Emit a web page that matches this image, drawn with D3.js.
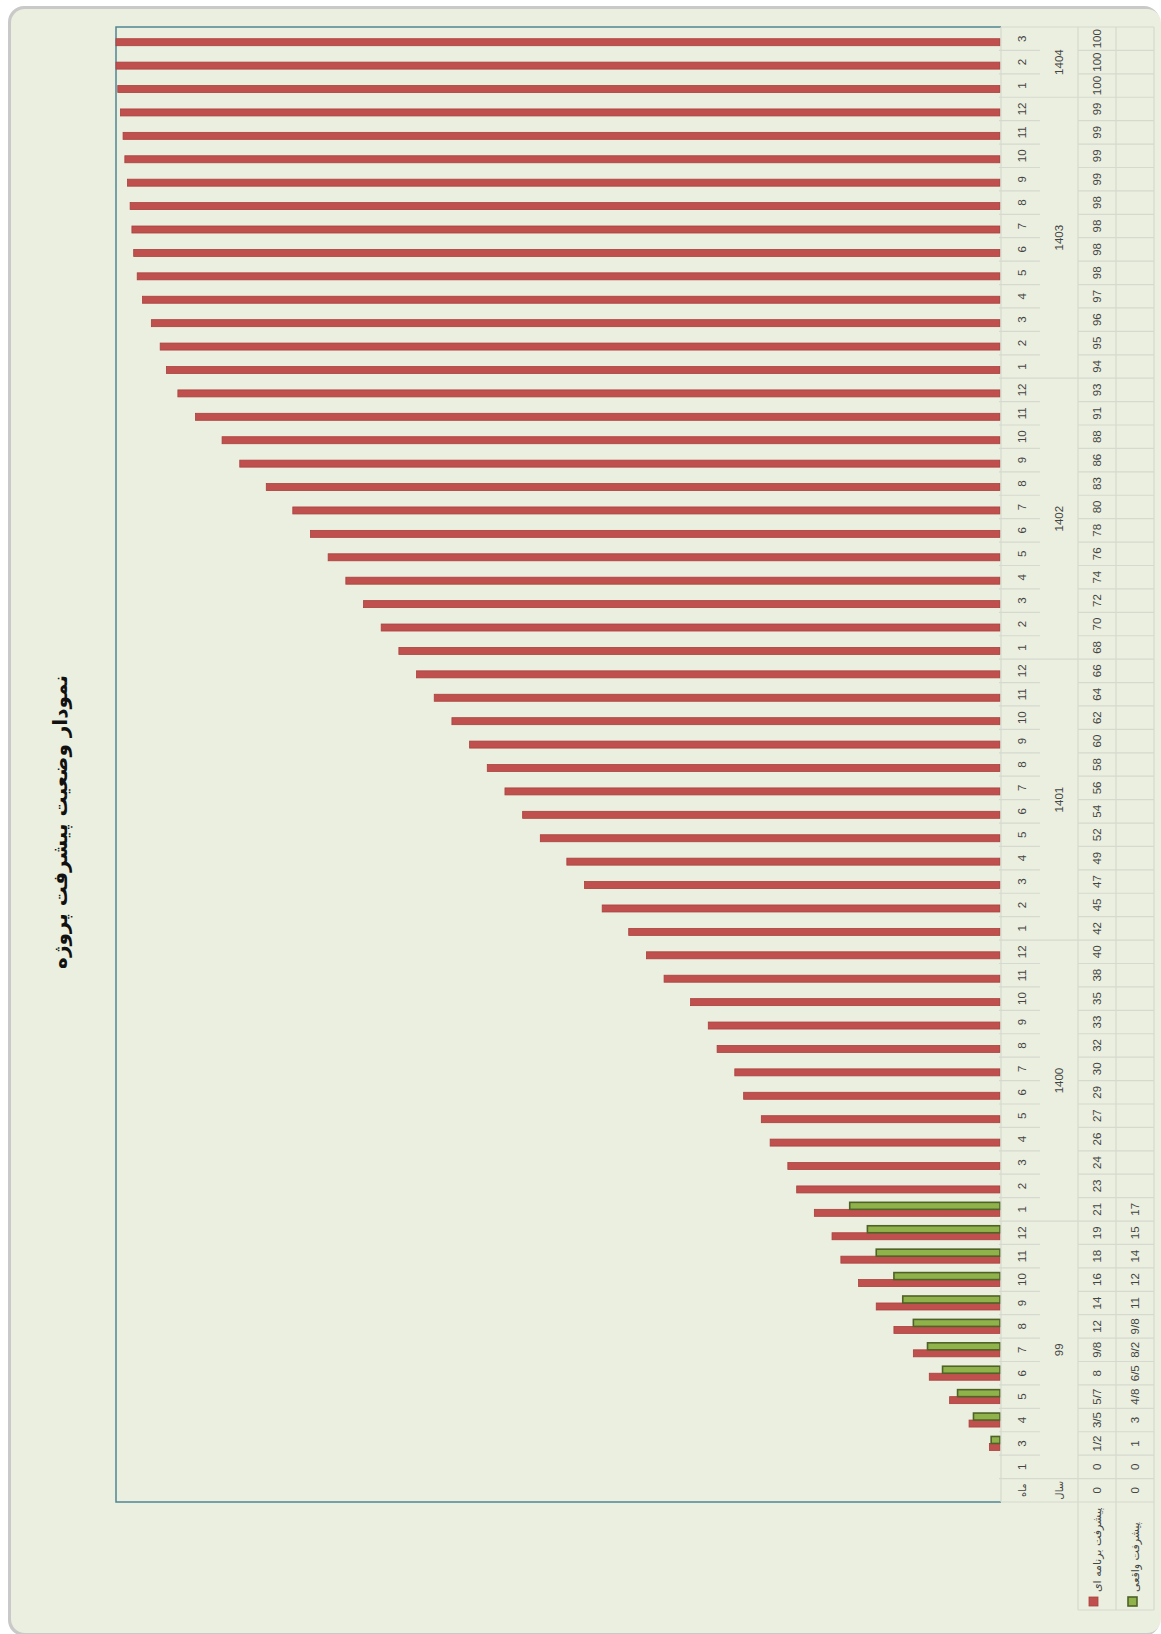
<!DOCTYPE html>
<html>
<head>
<meta charset="utf-8">
<script src="https://cdn.jsdelivr.net/npm/d3@7"></script>
<style>
  html, body { margin: 0; padding: 0; background: #ffffff; }
  svg { display: block; }
</style>
</head>
<body>
<svg id="chart" width="1161" height="1634"></svg>
<script>
// ---------------- DATA ----------------
const titleText = "نمودار وضعیت پیشرفت پروژه";
const seriesNames = ["پیشرفت برنامه ای", "پیشرفت واقعی"];
const monthLabels = [
  "ماه",
  "1","3","4","5","6","7","8","9","10","11","12",
  "1","2","3","4","5","6","7","8","9","10","11","12",
  "1","2","3","4","5","6","7","8","9","10","11","12",
  "1","2","3","4","5","6","7","8","9","10","11","12",
  "1","2","3","4","5","6","7","8","9","10","11","12",
  "1","2","3"
];
const yearLabels = ["سال", "99", "1400", "1401", "1402", "1403", "1404"];
const yearGroupSizes = [1, 11, 12, 12, 12, 12, 3];
const planned = [
  0, 0, 1.2, 3.5, 5.7, 8, 9.8, 12, 14, 16, 18, 19,
  21, 23, 24, 26, 27, 29, 30, 32, 33, 35, 38, 40,
  42, 45, 47, 49, 52, 54, 56, 58, 60, 62, 64, 66,
  68, 70, 72, 74, 76, 78, 80, 83, 86, 88, 91, 93,
  94.3, 95, 96, 97, 97.6, 98, 98.2, 98.4, 98.7, 99, 99.2, 99.5,
  99.8, 100, 100
];
const plannedLabels = [
  "0", "0", "1/2", "3/5", "5/7", "8", "9/8", "12", "14", "16", "18", "19",
  "21", "23", "24", "26", "27", "29", "30", "32", "33", "35", "38", "40",
  "42", "45", "47", "49", "52", "54", "56", "58", "60", "62", "64", "66",
  "68", "70", "72", "74", "76", "78", "80", "83", "86", "88", "91", "93",
  "94", "95", "96", "97", "98", "98", "98", "98", "99", "99", "99", "99",
  "100", "100", "100"
];
const actual = [
  0, 0, 1, 3, 4.8, 6.5, 8.2, 9.8, 11, 12, 14, 15,
  17
];
const actualLabels = [
  "0", "0", "1", "3", "4/8", "6/5", "8/2", "9/8", "11", "12", "14", "15",
  "17"
];

// ---------------- LAYOUT ----------------
const svg = d3.select("#chart");
const plot = { left: 116, right: 1000, top: 27, bottom: 1502 };
const tbl = { monthL: 1001, monthR: 1040, yearR: 1078, planR: 1116, actR: 1154, legendBottom: 1610 };
const cardFill = "#ebefdf";
const teal = "#4f8794";
const gridCol = "#d6d9cf";
const textCol = "#444";
const arabicFont = "'DejaVu Sans', 'Noto Sans', sans-serif";
const numFont = "'Liberation Sans', Arial, sans-serif";

// card with shadow
svg.append("rect").attr("x", 8).attr("y", 6).attr("width", 1152).attr("height", 1630)
  .attr("rx", 16).attr("fill", "#c9c9c9");
svg.append("rect").attr("x", 11).attr("y", 9).attr("width", 1150).attr("height", 1624)
  .attr("rx", 14).attr("fill", cardFill);

const idx = d3.range(monthLabels.length);
const y = d3.scaleBand().domain(idx).range([plot.bottom, plot.top]).paddingInner(0).paddingOuter(0);
const x = d3.scaleLinear().domain([0, 100]).range([plot.right, plot.left]);
const barW = 7;

// plot area
svg.append("rect").attr("x", plot.left).attr("y", plot.top)
  .attr("width", plot.right - plot.left).attr("height", plot.bottom - plot.top)
  .attr("fill", cardFill);
svg.append("path")
  .attr("d", `M${tbl.monthL},${plot.top}H${plot.left}V${plot.bottom}H${tbl.monthL}`)
  .attr("fill", "none").attr("stroke", teal).attr("stroke-width", 1.5);

// bars - planned (red), below within category
const gPlan = svg.append("g");
gPlan.selectAll("rect").data(planned.map((v, i) => ({ v, i })).filter(d => d.v > 0))
  .join("rect")
  .attr("x", d => x(d.v))
  .attr("y", d => y(d.i) + y.bandwidth() / 2)
  .attr("width", d => x(0) - x(d.v))
  .attr("height", barW)
  .attr("fill", "#c0504d")
  .attr("stroke", "#a8413e").attr("stroke-width", 0.8);

// bars - actual (green), above within category
const gAct = svg.append("g");
gAct.selectAll("rect").data(actual.map((v, i) => ({ v, i })).filter(d => d.v > 0))
  .join("rect")
  .attr("x", d => x(d.v))
  .attr("y", d => y(d.i) + y.bandwidth() / 2 - barW)
  .attr("width", d => x(0) - x(d.v))
  .attr("height", barW)
  .attr("fill", "#8fb24a")
  .attr("stroke", "#4f6228").attr("stroke-width", 1.6);

// ---------------- DATA TABLE ----------------
const gT = svg.append("g");
const line = (x1, y1, x2, y2, c) => gT.append("line")
  .attr("x1", x1).attr("y1", y1).attr("x2", x2).attr("y2", y2)
  .attr("stroke", c || gridCol).attr("stroke-width", 1.2);

line(tbl.monthL, plot.top, tbl.monthL, plot.bottom);
line(tbl.yearR, plot.top, tbl.yearR, tbl.legendBottom);
line(tbl.planR, plot.top, tbl.planR, tbl.legendBottom);
line(tbl.actR, plot.top, tbl.actR, tbl.legendBottom);
line(tbl.monthL, plot.top, tbl.actR, plot.top);
line(tbl.monthL, plot.bottom, tbl.actR, plot.bottom);
line(tbl.yearR, tbl.legendBottom, tbl.actR, tbl.legendBottom);

const groupStarts = [];
let acc = 0;
yearGroupSizes.forEach(s => { groupStarts.push(acc); acc += s; });
const isGroupStart = new Set(groupStarts);

idx.forEach(i => {
  if (i === 0) return;
  const yy = y(i) + y.bandwidth();
  line(tbl.monthL - 2, yy, isGroupStart.has(i) ? tbl.yearR : tbl.monthR, yy);
  line(tbl.yearR, yy, tbl.actR, yy);
});

const rotText = (g, tx, ty, str, size, font, weight) => g.append("text")
  .attr("transform", `translate(${tx},${ty}) rotate(-90)`)
  .attr("text-anchor", "middle").attr("dominant-baseline", "central")
  .attr("font-family", font).attr("font-size", size)
  .attr("font-weight", weight || "normal")
  .attr("fill", textCol).text(str);

const cy = i => y(i) + y.bandwidth() / 2;

monthLabels.forEach((m, i) => rotText(gT, 1022, cy(i), m, i === 0 ? 10 : 11.5, i === 0 ? arabicFont : numFont));
yearLabels.forEach((yl, k) => {
  const s = groupStarts[k], e = s + yearGroupSizes[k] - 1;
  rotText(gT, 1059, (cy(s) + cy(e)) / 2, yl, k === 0 ? 10 : 11.5, k === 0 ? arabicFont : numFont);
});
plannedLabels.forEach((t, i) => rotText(gT, 1097, cy(i), t, 11.5, numFont));
actualLabels.forEach((t, i) => rotText(gT, 1135, cy(i), t, 11.5, numFont));

// legend inside table
svg.append("rect").attr("x", 1089).attr("y", 1597).attr("width", 9).attr("height", 9)
  .attr("fill", "#c0504d").attr("stroke", "#a8413e").attr("stroke-width", 0.8);
svg.append("rect").attr("x", 1128).attr("y", 1597).attr("width", 9).attr("height", 9)
  .attr("fill", "#8fb24a").attr("stroke", "#4f6228").attr("stroke-width", 1.6);
const legT = [
  { x: 1097, yEnd: 1592 },
  { x: 1135, yEnd: 1592 }
];
seriesNames.forEach((n, k) => {
  svg.append("text")
    .attr("transform", `translate(${legT[k].x},${legT[k].yEnd}) rotate(-90)`)
    .attr("text-anchor", "start").attr("dominant-baseline", "central")
    .attr("font-family", arabicFont).attr("font-size", 11)
    .attr("fill", textCol).text(n);
});

// title
rotText(svg, 60, 822, titleText, 20, arabicFont, "bold").attr("fill", "#111");
</script>
</body>
</html>
